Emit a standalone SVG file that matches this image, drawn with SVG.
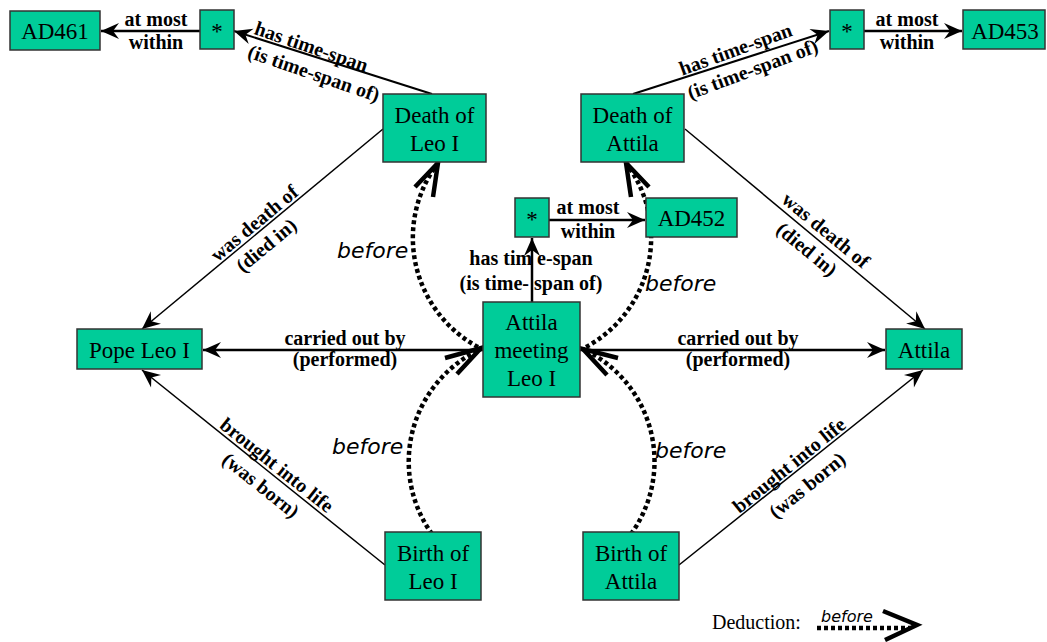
<svg xmlns="http://www.w3.org/2000/svg" width="1047" height="642" viewBox="0 0 1047 642">
<style>
.node rect{fill:#00CC99;stroke:#333;stroke-width:1.5}
.nt{font-family:"Liberation Serif","Times New Roman",serif;font-size:23px;text-anchor:middle;fill:#000}
.el{font-family:"Liberation Serif","Times New Roman",serif;font-size:20px;font-weight:bold;text-anchor:middle;fill:#000}
.bf{font-family:"DejaVu Sans",Verdana,sans-serif;font-style:italic;font-size:22px;fill:#000}
.ln{stroke:#000;fill:none;marker-end:url(#ah)}
.dot{stroke:#000;fill:none;stroke-width:4.5;stroke-dasharray:4 3}
.chev{stroke:#000;fill:none;stroke-width:4.5;stroke-linejoin:miter}
</style>
<defs>
<marker id="ah" markerUnits="userSpaceOnUse" markerWidth="20" markerHeight="18" viewBox="-20 -9 20 18" refX="0" refY="0" orient="auto">
<path d="M0,0 L-18,-8 L-12,0 L-18,8 Z" fill="#000"/>
</marker>
</defs>
<g id="connectors">
<line class="ln" x1="200" y1="31" x2="101" y2="31" stroke-width="2.5"/>
<line class="ln" x1="864" y1="31" x2="962" y2="31" stroke-width="2.5"/>
<line class="ln" x1="549" y1="220" x2="645" y2="220" stroke-width="2.5"/>
<line class="ln" x1="532" y1="302" x2="532" y2="238" stroke-width="2.5"/>
<line class="ln" x1="432" y1="94" x2="234" y2="31" stroke-width="2"/>
<line class="ln" x1="633" y1="94" x2="829" y2="31" stroke-width="2"/>
<line class="ln" x1="483" y1="350" x2="203" y2="350" stroke-width="2.5"/>
<line class="ln" x1="580" y1="350" x2="885" y2="350" stroke-width="2.5"/>
<line class="ln" x1="383" y1="129" x2="142" y2="329" stroke-width="1.5"/>
<line class="ln" x1="685" y1="129" x2="925" y2="329" stroke-width="1.5"/>
<line class="ln" x1="385" y1="565" x2="142" y2="370" stroke-width="1.5"/>
<line class="ln" x1="679" y1="565" x2="923" y2="370" stroke-width="1.5"/>
<path class="dot" d="M 432 534 A 124 124 0 0 1 481 349"/>
<path class="dot" d="M 478 347 A 124 124 0 0 1 438 163"/>
<path class="dot" d="M 631 534 A 124 124 0 0 0 583 349"/>
<path class="dot" d="M 586 347 A 124 124 0 0 0 626 163"/>
<path class="chev" d="M 415 187 L 438 163 L 433 197"/>
<path class="chev" d="M 445 358 L 481 348 L 457 374"/>
<path class="chev" d="M 618 358 L 583 349 L 607 375"/>
<path class="chev" d="M 649 187 L 626 163 L 631 197"/>
<text class="el" x="156" y="26">at most</text>
<text class="el" x="156" y="49">within</text>
<text class="el" x="907" y="26">at most</text>
<text class="el" x="907" y="49">within</text>
<text class="el" x="588" y="214">at most</text>
<text class="el" x="588" y="238">within</text>
<text class="el" x="531" y="265">has tim e-span</text>
<text class="el" x="531" y="290">(is time- span of)</text>
<text class="el" x="345" y="345">carried out by</text>
<text class="el" x="345" y="366">(performed)</text>
<text class="el" x="738" y="345">carried out by</text>
<text class="el" x="738" y="366">(performed)</text>
<text class="el" transform="translate(311.5,46.5) rotate(19)" y="7">has time-span</text>
<text class="el" transform="translate(314,73) rotate(19)" y="7">(is time-span of)</text>
<text class="el" transform="translate(735.5,49) rotate(-20)" y="7">has time-span</text>
<text class="el" transform="translate(752.5,69) rotate(-20.5)" y="7">(is time-span of)</text>
<text class="el" transform="translate(254,223) rotate(-39.7)" y="7">was death of</text>
<text class="el" transform="translate(266,245) rotate(-39.7)" y="7">(died in)</text>
<text class="el" transform="translate(826,230) rotate(39.5)" y="7">was death of</text>
<text class="el" transform="translate(807,249) rotate(39.5)" y="7">(died in)</text>
<text class="el" transform="translate(277,465) rotate(38.5)" y="7">brought into life</text>
<text class="el" transform="translate(261,485) rotate(38.5)" y="7">(was born)</text>
<text class="el" transform="translate(789,465) rotate(-39)" y="7">brought into life</text>
<text class="el" transform="translate(807,485) rotate(-39)" y="7">(was born)</text>
<text class="bf" x="337" y="258">before</text>
<text class="bf" x="332" y="454">before</text>
<text class="bf" x="645" y="291">before</text>
<text class="bf" x="655" y="458">before</text>
</g>
<g id="n-ad461" class="node"><rect x="10" y="11" width="90" height="39"/><text class="nt" x="55" y="39">AD461</text></g>
<g id="n-ts-leo" class="node"><rect x="200" y="10" width="34" height="39"/><text class="nt" x="217" y="39">*</text></g>
<g id="n-ts-attila" class="node"><rect x="830" y="10" width="34" height="39"/><text class="nt" x="847" y="39">*</text></g>
<g id="n-ad453" class="node"><rect x="963" y="10" width="82" height="39"/><text class="nt" x="1005" y="39">AD453</text></g>
<g id="n-death-leo" class="node"><rect x="383" y="94" width="103" height="68"/><text class="nt" x="434.5" y="123">Death of</text><text class="nt" x="434.5" y="151">Leo I</text></g>
<g id="n-death-attila" class="node"><rect x="581" y="94" width="103" height="68"/><text class="nt" x="632.5" y="123">Death of</text><text class="nt" x="632.5" y="151">Attila</text></g>
<g id="n-ts-meeting" class="node"><rect x="515" y="198" width="34" height="39"/><text class="nt" x="532" y="227">*</text></g>
<g id="n-ad452" class="node"><rect x="646" y="198" width="91" height="39"/><text class="nt" x="691.5" y="226">AD452</text></g>
<g id="n-pope" class="node"><rect x="77" y="329" width="125" height="40"/><text class="nt" x="139.5" y="358">Pope Leo I</text></g>
<g id="n-attila" class="node"><rect x="886" y="329" width="76" height="40"/><text class="nt" x="924" y="358">Attila</text></g>
<g id="n-meeting" class="node"><rect x="483" y="302" width="97" height="95"/><text class="nt" x="531.5" y="330">Attila</text><text class="nt" x="531.5" y="358">meeting</text><text class="nt" x="531.5" y="386">Leo I</text></g>
<g id="n-birth-leo" class="node"><rect x="385" y="532" width="96" height="68"/><text class="nt" x="433" y="561">Birth of</text><text class="nt" x="433" y="589">Leo I</text></g>
<g id="n-birth-attila" class="node"><rect x="583" y="532" width="96" height="68"/><text class="nt" x="631" y="561">Birth of</text><text class="nt" x="631" y="589">Attila</text></g>
<g id="legend">
<text x="712" y="629" font-family="Liberation Serif,'Times New Roman',serif" font-size="20">Deduction:</text>
<text x="821" y="622" font-family="DejaVu Sans,Verdana,sans-serif" font-style="italic" font-size="16">before</text>
<path class="dot" d="M 817 628 L 910 628"/>
<path class="chev" d="M 883 611 L 917 625 L 885 640"/>
</g>
</svg>
